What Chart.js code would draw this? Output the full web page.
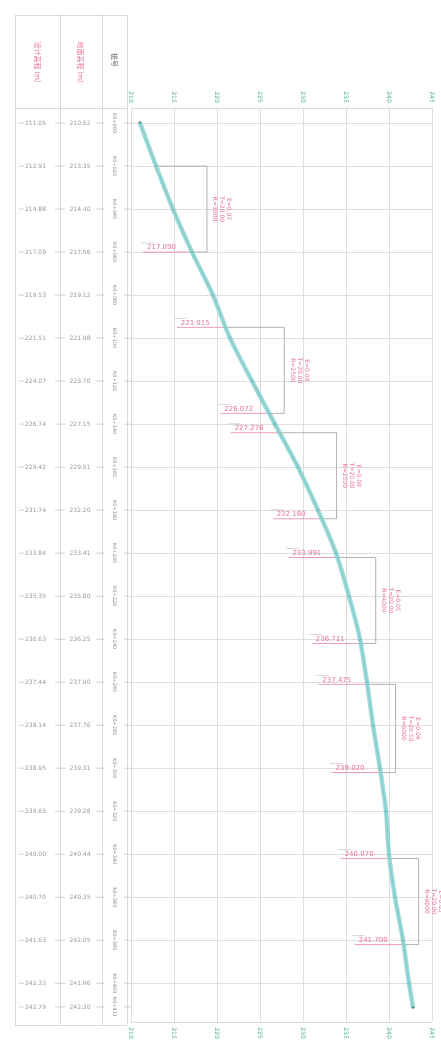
<!DOCTYPE html>
<html>
<head>
<meta charset="utf-8">
<style>
  html, body { margin: 0; padding: 0; background: #fff; }
  canvas { display: block; filter: blur(0.55px); }
</style>
<script src="https://cdn.jsdelivr.net/npm/chart.js@4.4.0/dist/chart.umd.min.js"></script>
</head>
<body>
<canvas id="profile" width="441" height="1043"></canvas>
<script>
// stations (m) and labels
const stations = [0, 20, 40, 60, 80, 100, 120, 140, 160, 180, 200, 220, 240, 260, 280, 300, 320, 340, 360, 380, 400, 411];
const stationLabels = ['K0+000', 'K0+020', 'K0+040', 'K0+060', 'K0+080', 'K0+100', 'K0+120', 'K0+140', 'K0+160', 'K0+180', 'K0+200',
  'K0+220', 'K0+240', 'K0+260', 'K0+280', 'K0+300', 'K0+320', 'K0+340', 'K0+360', 'K0+380', 'K0+400', 'K0+411'];
// design and ground elevations (m)
const designElev = [211.05, 212.91, 214.88, 217.09, 219.53, 221.51, 224.07, 226.74, 229.42, 231.74, 233.84,
  235.35, 236.63, 237.44, 238.14, 238.95, 239.65, 240.00, 240.70, 241.63, 242.33, 242.79];
const groundElev = [210.62, 213.35, 214.40, 217.56, 219.12, 221.98, 223.70, 227.15, 229.01, 232.20, 233.41,
  235.80, 236.25, 237.90, 237.76, 239.31, 239.28, 240.44, 240.35, 242.05, 241.96, 242.30];
// elevation axis ticks
const elevTicks = [210, 215, 220, 225, 230, 235, 240, 245];
// vertical curves: start / end chainage and parameters
const vcStart = [20, 95, 144, 202, 261, 342];
const vcEnd = [60, 135, 184, 242, 302, 382];
const vcRadius = ['R=3000', 'R=2500', 'R=2500', 'R=4000', 'R=6000', 'R=8000'];
const vcTangent = ['T=20.00', 'T=20.00', 'T=20.00', 'T=20.00', 'T=20.50', 'T=20.00'];
const vcExternal = ['E=0.07', 'E=0.08', 'E=0.08', 'E=0.05', 'E=0.04', 'E=0.03'];
// chainages that carry an elevation callout
const calloutChain = [60, 95, 135, 144, 184, 202, 242, 261, 302, 342, 382];

const PINK = '#e8739a';
const GREEN = '#4aac86';
const GRID = '#dedede';

function elevAt(c) {
  for (let i = 1; i < stations.length; i++) {
    if (c <= stations[i]) {
      const t = (c - stations[i - 1]) / (stations[i] - stations[i - 1]);
      return designElev[i - 1] + t * (designElev[i] - designElev[i - 1]);
    }
  }
  return designElev[designElev.length - 1];
}

function rotText(ctx, txt, x, y, ang) {
  ctx.save();
  ctx.translate(x, y);
  ctx.rotate(ang);
  ctx.fillText(txt, 0, 0);
  ctx.restore();
}

const profilePlugin = {
  id: 'profile',
  beforeDatasetsDraw(chart) {
    const { ctx, chartArea: a, scales: { x, y } } = chart;
    ctx.save();
    // frame lines top / bottom
    ctx.strokeStyle = '#cfe3da';
    ctx.lineWidth = 1;
    ctx.beginPath();
    ctx.moveTo(a.left, a.top + 0.5); ctx.lineTo(a.right, a.top + 0.5);
    ctx.moveTo(a.left, a.bottom + 0.5); ctx.lineTo(a.right, a.bottom + 0.5);
    ctx.stroke();

    // vertical curve brackets
    for (let i = 0; i < vcStart.length; i++) {
      const y0 = y.getPixelForValue(vcStart[i]);
      const y1 = y.getPixelForValue(vcEnd[i]);
      const bx = Math.min(x.getPixelForValue(Math.max(elevAt(vcStart[i]), elevAt(vcEnd[i]))) + 15, a.right);
      ctx.strokeStyle = '#a0a0a0';
      ctx.lineWidth = 0.8;
      ctx.beginPath();
      ctx.moveTo(x.getPixelForValue(elevAt(vcStart[i])), y0); ctx.lineTo(bx, y0);
      ctx.lineTo(bx, y1);
      ctx.lineTo(x.getPixelForValue(elevAt(vcEnd[i])), y1);
      ctx.stroke();
      ctx.fillStyle = PINK;
      ctx.font = '6px "DejaVu Sans"';
      ctx.textAlign = 'center';
      ctx.textBaseline = 'middle';
      const ym = (y0 + y1) / 2;
      [vcRadius[i], vcTangent[i], vcExternal[i]].forEach((t, k) => {
        rotText(ctx, t, bx + 8 + k * 7, ym, Math.PI / 2);
      });
    }

    // elevation callouts
    ctx.font = '7px "DejaVu Sans"';
    calloutChain.forEach(c => {
      const py = y.getPixelForValue(c);
      const cx = x.getPixelForValue(elevAt(c));
      const txt = elevAt(c).toFixed(3);
      const w = ctx.measureText(txt).width;
      const right = cx - 16;
      ctx.fillStyle = PINK;
      ctx.textAlign = 'right';
      ctx.textBaseline = 'bottom';
      ctx.fillText(txt, right, py - 1);
      ctx.strokeStyle = PINK;
      ctx.lineWidth = 0.7;
      ctx.beginPath();
      ctx.moveTo(right - w - 4, py); ctx.lineTo(cx, py);
      ctx.stroke();
      ctx.strokeStyle = '#c4c4c4';
      ctx.beginPath();
      ctx.moveTo(right - w - 6, py - 9); ctx.lineTo(right - w + 6, py - 9);
      ctx.stroke();
    });
    ctx.restore();
  },
  afterDraw(chart) {
    const { ctx, chartArea: a, scales: { x, y } } = chart;
    ctx.save();
    // elevation tick labels, top and bottom
    ctx.fillStyle = GREEN;
    ctx.font = '6px "DejaVu Sans"';
    ctx.textAlign = 'center';
    ctx.textBaseline = 'middle';
    elevTicks.forEach(v => {
      const px = x.getPixelForValue(v);
      rotText(ctx, String(v), px, a.top - 11, Math.PI / 2);
      rotText(ctx, String(v), px, a.bottom + 11, Math.PI / 2);
    });

    // data table on the left
    const cols = [15, 60, 102, 127];
    const tTop = 15, tHead = 108, tBot = 1025;
    ctx.strokeStyle = '#d0d0d0';
    ctx.lineWidth = 0.8;
    ctx.beginPath();
    cols.forEach(cx => { ctx.moveTo(cx + 0.5, tTop); ctx.lineTo(cx + 0.5, tBot); });
    [tTop, tHead, tBot].forEach(ty => { ctx.moveTo(cols[0], ty + 0.5); ctx.lineTo(cols[3], ty + 0.5); });
    ctx.stroke();

    ctx.font = '7px "Noto Sans CJK SC"';
    ctx.fillStyle = PINK;
    rotText(ctx, '设计高程 (m)', (cols[0] + cols[1]) / 2, 62, Math.PI / 2);
    rotText(ctx, '地面高程 (m)', (cols[1] + cols[2]) / 2, 62, Math.PI / 2);
    ctx.fillStyle = '#666';
    rotText(ctx, '桩号', (cols[2] + cols[3]) / 2, 60, Math.PI / 2);

    stations.forEach((s, i) => {
      const py = y.getPixelForValue(s);
      ctx.font = '6px "DejaVu Sans"';
      ctx.fillStyle = '#9a9a9a';
      ctx.textAlign = 'center';
      ctx.textBaseline = 'middle';
      ctx.fillText(designElev[i].toFixed(2), (cols[0] + cols[1]) / 2 - 2, py);
      ctx.fillText(groundElev[i].toFixed(2), (cols[1] + cols[2]) / 2 - 1, py);
      ctx.font = '5px "DejaVu Sans"';
      ctx.fillStyle = '#8a8a8a';
      rotText(ctx, stationLabels[i], (cols[2] + cols[3]) / 2, py, Math.PI / 2);
      ctx.strokeStyle = '#bdbdbd';
      ctx.lineWidth = 0.7;
      ctx.beginPath();
      ctx.moveTo(cols[0] + 4, py); ctx.lineTo(cols[0] + 9, py);
      ctx.moveTo(cols[1] - 5, py); ctx.lineTo(cols[1] + 5, py);
      ctx.moveTo(cols[2] - 6, py); ctx.lineTo(cols[2] + 2, py);
      ctx.moveTo(cols[3] - 3, py); ctx.lineTo(a.left, py);
      ctx.stroke();
    });
    ctx.restore();
  }
};

const points = designElev.map((v, i) => ({ x: v, y: stations[i] }));

new Chart(document.getElementById('profile'), {
  type: 'scatter',
  data: {
    datasets: [
      {
        data: points,
        showLine: true,
        borderColor: 'rgba(140, 212, 212, 0.85)',
        borderWidth: 4.5,
        pointRadius: 0,
        tension: 0.2
      },
      {
        data: points,
        showLine: true,
        borderColor: '#5a9494',
        borderWidth: 1.1,
        pointRadius: 1.8,
        pointBackgroundColor: '#4f8a8a',
        pointBorderWidth: 0,
        tension: 0.2
      }
    ]
  },
  options: {
    responsive: false,
    animation: false,
    layout: { padding: { left: 131, right: 9, top: 108, bottom: 21 } },
    plugins: { legend: { display: false }, tooltip: { enabled: false } },
    scales: {
      x: {
        type: 'linear',
        min: 210,
        max: 245,
        afterBuildTicks: s => { s.ticks = elevTicks.map(v => ({ value: v })); },
        ticks: { display: false },
        grid: { color: GRID, drawTicks: false },
        border: { display: false }
      },
      y: {
        type: 'linear',
        reverse: true,
        min: -7,
        max: 418,
        afterBuildTicks: s => { s.ticks = stations.slice(0, -1).map(v => ({ value: v })); },
        ticks: { display: false },
        grid: { color: GRID, drawTicks: false },
        border: { display: false }
      }
    }
  },
  plugins: [profilePlugin]
});
</script>
</body>
</html>
